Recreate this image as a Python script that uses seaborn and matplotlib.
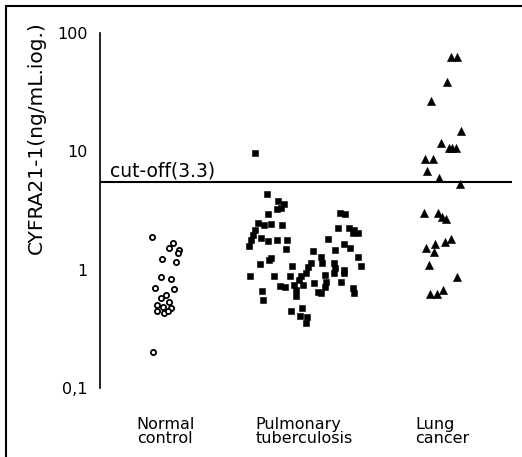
import matplotlib
matplotlib.use("Agg")
import matplotlib.pyplot as plt
from matplotlib.lines import Line2D
import seaborn as sns
import pandas as pd

sns.set_theme(style="white")
plt.rcParams['font.family'] = ['DejaVu Sans']

# ---- data ----
categories = ["Normal\ncontrol", "Pulmonary\ntuberculosis", "Lung\ncancer"]

normal_vals = [1.90, 1.69, 1.52, 1.47, 1.38, 1.22, 1.16, 0.86, 0.83, 0.70, 0.69,
               0.58, 0.61, 0.50, 0.48, 0.53, 0.47, 0.45, 0.43, 0.45, 0.20]
normal_dx = [-0.099, 0.053, 0.024, 0.096, 0.089, -0.029, 0.070, -0.038, 0.036, -0.080, 0.060,
             -0.038, 0.0, -0.063, -0.020, 0.024, 0.036, -0.067, -0.014, 0.017, -0.092]

tb_vals = [9.75, 4.34, 3.83, 3.59, 3.30, 3.24, 2.96, 2.50, 2.39, 2.42, 2.39, 2.17, 1.97, 1.78,
           1.59, 1.86, 1.76, 1.78, 1.78, 1.50, 1.26, 1.21, 1.12, 0.885, 0.89, 0.664, 0.554,
           0.45, 0.472, 0.406, 0.401, 0.357, 1.07, 0.885, 0.728, 0.718, 0.743, 0.673, 0.60,
           0.818, 0.885, 0.933, 1.06, 0.743, 1.45, 1.13, 0.767, 1.29, 1.13, 0.652, 0.64,
           0.902, 0.792, 0.718, 1.81, 1.47, 1.13, 1.03, 0.933, 0.99, 0.933, 0.792, 2.24,
           3.03, 2.96, 1.65, 2.24, 2.06, 2.03, 2.17, 1.52, 1.29, 1.07, 0.697, 0.631]
tb_dx = [-0.353, -0.268, -0.190, -0.147, -0.171, -0.195, -0.263, -0.336, -0.292, -0.239,
         -0.159, -0.353, -0.369, -0.384, -0.399, -0.316, -0.263, -0.195, -0.127, -0.132,
         -0.239, -0.256, -0.321, -0.394, -0.220, -0.304, -0.297, -0.098, -0.013, -0.031,
         0.023, 0.011, -0.086, -0.103, -0.176, -0.142, -0.074, -0.062, -0.062, -0.038,
         -0.020, 0.011, 0.031, -0.006, 0.067, 0.052, 0.071, 0.120, 0.132, 0.100, 0.120,
         0.149, 0.156, 0.151, 0.173, 0.224, 0.217, 0.222, 0.212, 0.289, 0.285, 0.265,
         0.246, 0.260, 0.295, 0.285, 0.326, 0.351, 0.387, 0.362, 0.333, 0.387, 0.411,
         0.351, 0.358]

lung_vals = [62.4, 62.4, 38.8, 26.7, 14.9, 11.7, 10.7, 10.7, 10.6, 8.67, 8.67, 6.87, 5.93,
             5.27, 3.0, 3.0, 2.81, 2.67, 1.82, 1.72, 1.53, 1.65, 1.42, 1.10, 0.863, 0.623,
             0.623, 0.674]
lung_dx = [0.065, 0.102, 0.036, -0.080, 0.133, -0.007, 0.046, 0.071, 0.095, -0.129, -0.068,
           -0.111, -0.024, 0.126, -0.136, -0.031, -0.002, 0.029, 0.065, 0.022, -0.121,
           -0.051, -0.060, -0.097, 0.107, -0.092, -0.039, 0.005]

cutoff_label = "cut-off(3.3)"
cutoff_level = 5.5
ytick_vals = [0.1, 1, 10, 100]
ytick_labels = ["0,1", "1", "10", "100"]
ylabel = "CYFRA21-1(ng/mL.iog.)"

# ---- figure ----
W, H = 522, 457
fig = plt.figure(figsize=(W / 100, H / 100), dpi=100)
ax = fig.add_axes([100 / W, 1 - 388 / H, 412 / W, 355 / H])

def frame(vals, dx, idx):
    return pd.DataFrame({"x": [idx + d for d in dx], "value": vals})

sns.scatterplot(data=frame(normal_vals, normal_dx, 0), x="x", y="value", ax=ax,
                marker="o", s=14, facecolor="white", edgecolor="black", linewidth=1.3)
sns.scatterplot(data=frame(tb_vals, tb_dx, 1), x="x", y="value", ax=ax,
                marker="s", s=18, color="black", edgecolor="black", linewidth=0.4)
sns.scatterplot(data=frame(lung_vals, lung_dx, 2), x="x", y="value", ax=ax,
                marker="^", s=34, color="black", edgecolor="black", linewidth=0.4)

ax.set_yscale("log")
ax.set_ylim(0.1, 100)
ax.set_xlim(-0.477, 2.503)

ax.axhline(cutoff_level, color="black", lw=1.5)
ax.text(-0.405, 6.17, cutoff_label, fontsize=13.5, color="black", va="baseline", ha="left")

ax.set_yticks(ytick_vals)
ax.set_yticklabels(ytick_labels, fontsize=11.5)
ax.yaxis.set_minor_locator(matplotlib.ticker.NullLocator())
ax.set_xticks([0, 1, 2])
ax.set_xticklabels(categories, fontsize=11.5, linespacing=0.9)
for lbl in ax.get_xticklabels():
    lbl.set_multialignment("left")
ax.tick_params(axis="y", length=0, pad=9, colors="black")
ax.tick_params(axis="x", length=0, pad=21, colors="black")
ax.set_xlabel("")
ax.set_ylabel("")

for side in ["top", "right", "bottom"]:
    ax.spines[side].set_visible(False)
ax.spines["left"].set_color("black")
ax.spines["left"].set_linewidth(1.2)
ax.set_facecolor("white")

fig.text(36 / W, 1 - 138 / H, ylabel, rotation=90, fontsize=14.5, ha="center", va="center",
         color="black")

# outer frame (left and top edges visible in the reference)
fig.add_artist(Line2D([6 / W, 6 / W], [0, 1 - 6 / H], transform=fig.transFigure,
                      color="black", lw=1.5))
fig.add_artist(Line2D([6 / W, 1], [1 - 6 / H, 1 - 6 / H], transform=fig.transFigure,
                      color="black", lw=1.5))

fig.savefig("out.png", dpi=100, facecolor="white")
